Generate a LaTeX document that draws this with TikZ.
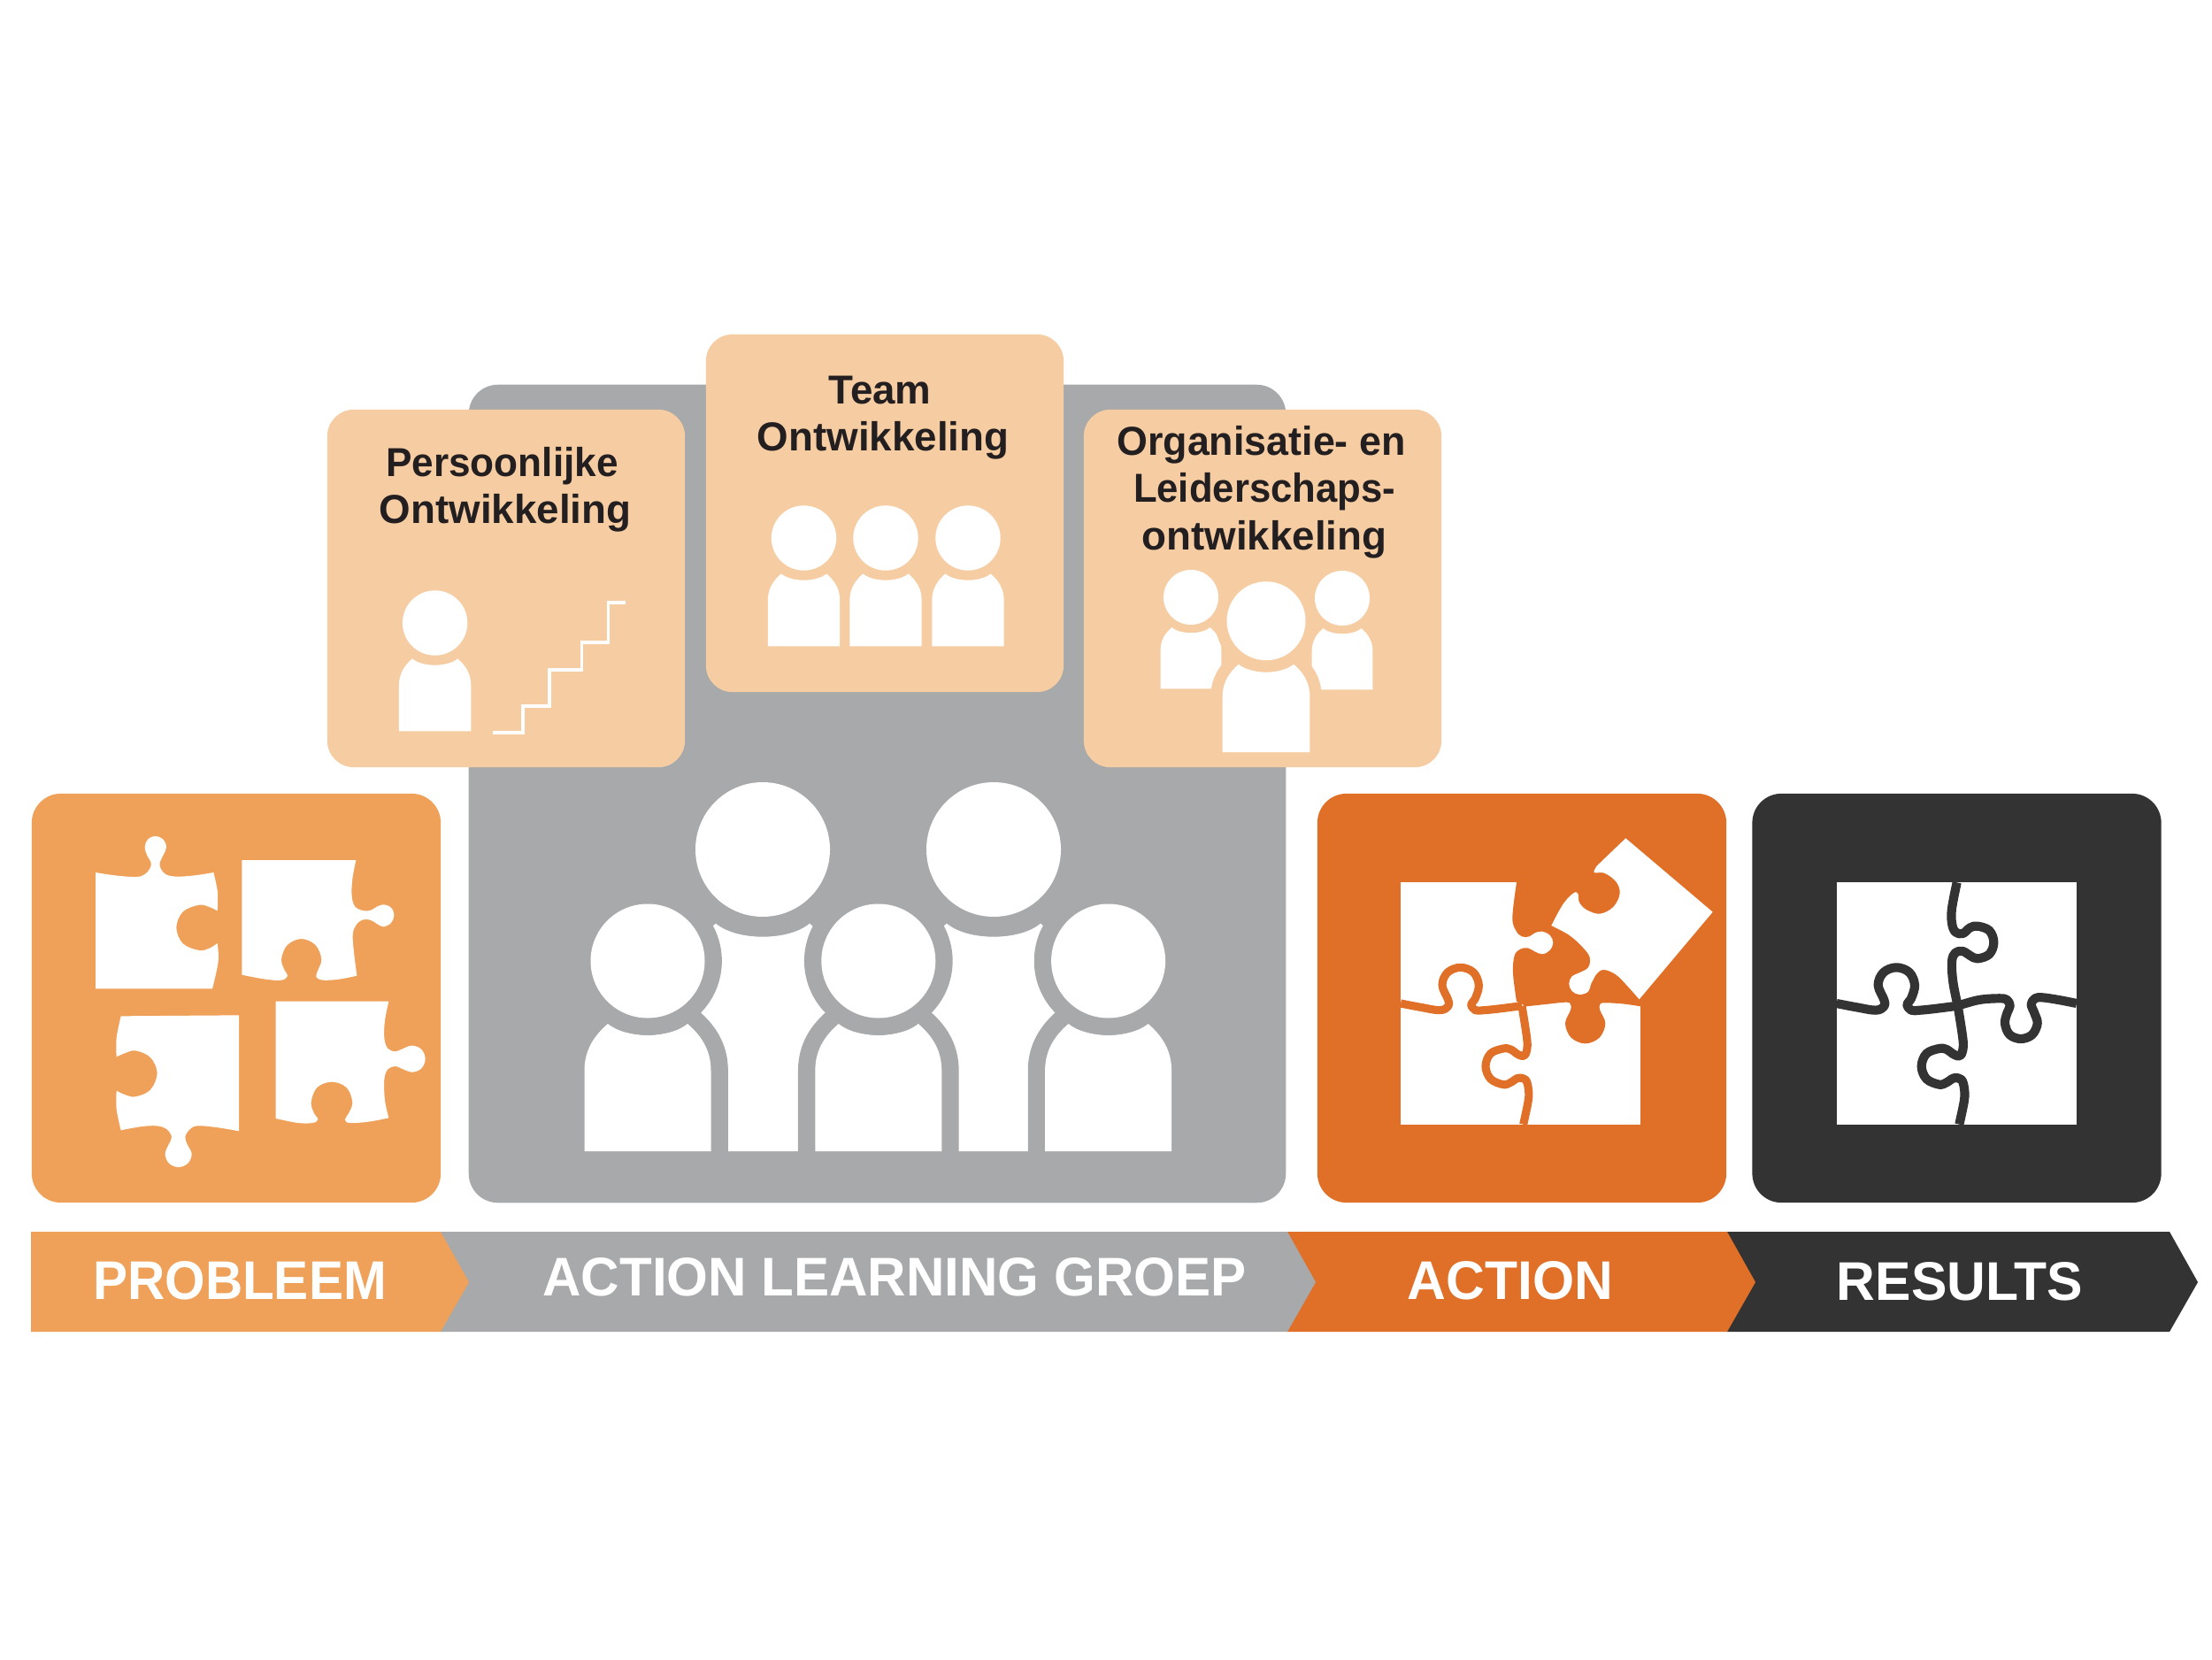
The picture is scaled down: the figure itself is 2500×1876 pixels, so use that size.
\documentclass[tikz,border=0pt]{standalone}
\usepackage{fontspec}
\setmainfont{Liberation Sans}
\newfontfamily\stripfont{Liberation Sans}[FakeStretch=0.985]
\usepackage{xcolor}
\definecolor{problemorange}{HTML}{EFA159}
\definecolor{groupgray}{HTML}{A7A9AA}
\definecolor{actionorange}{HTML}{E07028}
\definecolor{resultdark}{HTML}{333333}
\definecolor{cardpeach}{HTML}{F6CDA3}
\definecolor{textdark}{HTML}{231F20}

% head and shoulders: centre x, centre y, head radius, body bottom, halo style
\newcommand{\drawperson}[5]{%
  \begin{scope}[shift={(#1,#2)},scale=#3/64.5]
    \path[fill=white,#5] (-71.5,#4) -- (-71.5,124) .. controls (-71.5,100) and (-60,84) .. (-45,71)
      .. controls (-25,88) and (25,88) .. (45,71) .. controls (60,84) and (71.5,100) .. (71.5,124)
      -- (71.5,#4) -- cycle;
    \path[fill=white,#5] (0,0) circle[radius=64.5];
  \end{scope}}

% puzzle seams, in the frame of the finished puzzle
\newcommand{\seamwest}{plot[smooth,tension=.6] coordinates {(317,762) (385,775) (450,785) (478,772) (478,750) (458,700) (476,657) (520,640) (564,657) (582,700) (570,745) (556,765) (570,785) (600,785) (650,780) (728,770)}}
\newcommand{\seamsouth}{plot[smooth,tension=.6] coordinates {(728,770) (745,880) (745,920) (735,940) (715,935) (690,918) (665,915) (622,932) (605,975) (622,1018) (665,1037) (690,1030) (715,1015) (740,1020) (750,1050) (750,1090) (733,1172)}}
\newcommand{\seamnorth}{plot[smooth,tension=.6] coordinates {(725,352) (708,440) (708,490) (720,520) (745,525) (770,505) (795,500) (835,515) (850,555) (835,595) (795,610) (770,600) (745,585) (720,590) (708,620) (712,690) (728,770)}}
\newcommand{\seameast}{plot[smooth,tension=.6] coordinates {(728,770) (800,750) (870,745) (895,750) (905,770) (895,795) (888,830) (904,868) (942,882) (980,868) (998,830) (988,795) (977,765) (990,745) (1015,742) (1070,750) (1131,762)}}

\begin{document}
\begin{tikzpicture}[
    x=0.01cm, y=-0.01cm,
    panel/.style={rounded corners=0.33cm, minimum width=4.62cm, minimum height=4.62cm,
                  inner sep=0pt, fill=#1},
    card/.style={rounded corners=0.3cm, minimum width=4.04cm, minimum height=4.04cm,
                 inner sep=0pt, fill=cardpeach},
    cardtext/.style={font=\fontsize{13}{15.2}\selectfont\bfseries, align=center,
                     text=textdark, inner sep=0pt},
    striptext/.style={font=\fontsize{17.5}{20}\selectfont\stripfont\bfseries, text=white, inner sep=0pt},
    seam/.style={line width=#1, line join=round},
    piece/.style={smooth, tension=.6},
    halogray/.style={preaction={draw=groupgray,line width=11pt}},
    halopeach/.style={preaction={draw=cardpeach,line width=7.6pt}}
  ]
    \useasboundingbox (0,0) rectangle (2500,1876);

    % Panels
    \node[panel=problemorange] (problem) at (267,1128) {};
    \node[panel=groupgray, minimum width=9.23cm, minimum height=9.24cm] (group) at (991.5,897) {};
    \node[panel=actionorange] (action) at (1720,1128) {};
    \node[panel=resultdark] (results) at (2211.5,1128) {};

    % Cards on the group panel
    \node[card] (personal) at (572,665) {};
    \node[card] (team) at (1000,580) {};
    \node[card] (organisation) at (1427,665) {};
    \node[cardtext] (personaltext) at (571,553.5) {\scalebox{.965}[1]{Persoonlijke}\hspace*{2pt}\\Ontwikkeling};
    \node[cardtext] (teamtext) at (998,472) {Team\hspace*{2pt}\\Ontwikkeling};
    \node[cardtext] (organisationtext) at (1429,556) {\scalebox{.98}[1]{Organisatie- en}\hspace*{2pt}\\\scalebox{.955}[1]{Leiderschaps-}\\ontwikkeling};

    % Card icons
    \drawperson{491.6}{704}{36.7}{215}{}
    \draw[white, line width=1.1pt] (557,828) -- (590.6,828) -- (590.6,798) -- (621,798) -- (621,757)
      -- (657.5,757) -- (657.5,726) -- (687.5,726) -- (687.5,681) -- (707,681);
    \drawperson{908.5}{608}{36.7}{215}{}
    \drawperson{1001}{608}{36.7}{215}{}
    \drawperson{1094}{608}{36.7}{215}{}
    \drawperson{1346}{675}{31}{215}{}
    \drawperson{1517}{676}{31}{215}{}
    \drawperson{1431}{701.7}{44.5}{215}{halopeach}

    % Group of five
    \drawperson{862}{960}{76}{289.4}{}
    \drawperson{1123}{960}{76}{289.4}{}
    \drawperson{732}{1086}{64.5}{215}{halogray}
    \drawperson{992.8}{1086}{64.5}{215}{halogray}
    \drawperson{1252.6}{1086}{64.5}{215}{halogray}

    % Loose puzzle pieces
    \begin{scope}[shift={(20,880)}, scale=1/3]
      \fill[white] plot[piece] coordinates {(264,318) (330,328) (400,333) (430,325) (448,305) (452,285) (438,258) (431,232) (441,206) (467,195) (493,206) (504,232) (494,258) (482,285) (485,305) (503,325) (540,332) (600,328) (664,318)}
        -- plot[piece] coordinates {(664,318) (678,385) (677,448)}
        -- plot[piece] coordinates {(677,448) (650,435) (615,428) (560,451) (538,505) (560,559) (615,582) (650,575) (677,558)}
        -- plot[piece] coordinates {(677,558) (680,620) (660,712)} -- (264,712) -- cycle;
      \fill[white] (760,276) -- (1147,276) -- plot[piece] coordinates {(1147,276) (1135,340) (1133,400) (1145,435) (1175,448) (1200,445) (1218,434) (1240,427) (1266,437) (1276,463) (1266,489) (1240,502) (1218,492) (1200,481) (1175,477) (1148,495) (1136,540) (1150,668)}
        -- plot[piece] coordinates {(1150,668) (1090,680) (1035,683) (1012,672) (1018,650) (1030,612) (1010,564) (962,543) (914,564) (894,612) (905,650) (915,668) (895,683) (840,680) (760,665)} -- cycle;
      \fill[white] (350,805) -- (750,802) -- (750,1195) -- plot[piece] coordinates {(750,1195) (680,1183) (610,1177) (582,1190) (568,1215) (575,1240) (590,1272) (577,1304) (545,1317) (513,1304) (500,1272) (512,1240) (522,1215) (505,1188) (470,1177) (415,1180) (350,1192)}
        -- plot[piece] coordinates {(350,1192) (335,1120) (335,1058)}
        -- plot[piece] coordinates {(335,1058) (365,1072) (400,1078) (450,1055) (473,998) (450,945) (400,922) (365,930) (335,943)}
        -- plot[piece] coordinates {(335,943) (335,880) (350,805)} -- cycle;
      \fill[white] (875,755) -- (1258,755) -- plot[piece] coordinates {(1258,755) (1245,820) (1243,880) (1255,915) (1280,925) (1300,918) (1337,905) (1369,918) (1382,950) (1369,982) (1337,995) (1300,982) (1280,975) (1255,985) (1243,1020) (1245,1090) (1258,1150)}
        -- plot[piece] coordinates {(1258,1150) (1190,1163) (1125,1167) (1110,1155) (1122,1135) (1135,1097) (1115,1047) (1065,1028) (1015,1047) (995,1097) (1005,1135) (1018,1155) (1000,1167) (950,1167) (875,1152)} -- cycle;
    \end{scope}

    % Puzzle with the last piece going in
    \begin{scope}[shift={(1480,880)}, scale=1/3]
      \fill[white] (309,352) rectangle (1123,1172);
      \fill[actionorange] (702,345) -- plot[piece] coordinates {(702,352) (688,470) (700,515) (720,535) (745,535) (765,522) (790,518) (815,530) (826,555) (815,582) (790,595) (765,587) (740,574) (715,578) (695,600) (690,660) (702,755)}
        -- plot[piece] coordinates {(735,772) (800,765) (870,758) (885,765) (885,785) (867,830) (887,878) (935,898) (983,878) (1003,830) (985,785) (985,765) (1000,760) (1060,763) (1123,772)}
        -- (1130,772) -- (1130,345) -- cycle;
      \begin{scope}[shift={(-8,0)}]
        \draw[actionorange, seam=2.6pt] \seamwest;
        \draw[actionorange, seam=2.6pt] \seamsouth;
      \end{scope}
      \fill[white] (1072,202) -- (1367,452) -- (1118,748)
        -- plot[piece] coordinates {(1118,748) (1080,705) (1040,665) (1000,648) (975,660) (955,695) (945,722) (915,732) (890,720) (880,695) (890,670) (915,658) (945,640) (950,605) (925,570) (880,530) (820,498)}
        -- plot[piece] coordinates {(820,498) (860,425) (895,388) (910,390) (915,420) (940,445) (985,458) (1030,435) (1052,390) (1040,350) (1000,320) (965,318) (975,295)} -- cycle;
    \end{scope}

    % Finished puzzle
    \begin{scope}[shift={(1970,880)}, scale=1/3]
      \fill[white] (317,352) rectangle (1131,1172);
      \draw[resultdark, seam=2.9pt] \seamwest;
      \draw[resultdark, seam=2.9pt] \seamsouth;
      \draw[resultdark, seam=2.9pt] \seamnorth;
      \draw[resultdark, seam=2.9pt] \seameast;
    \end{scope}

    % Bottom strip, each tip lying over the next part
    \fill[resultdark] (1952,1392) -- (2452,1392) -- (2484,1449) -- (2452,1505) -- (1952,1505) -- cycle;
    \fill[actionorange] (1455,1392) -- (1952,1392) -- (1984,1449) -- (1952,1505) -- (1455,1505) -- cycle;
    \fill[groupgray] (498,1392) -- (1455,1392) -- (1487,1449) -- (1455,1505) -- (498,1505) -- cycle;
    \fill[problemorange] (35,1392) -- (498,1392) -- (530,1449) -- (498,1505) -- (35,1505) -- cycle;
    \node[striptext] (problemlabel) at (271,1447) {\scalebox{.965}[1]{PROBLEEM}};
    \node[striptext] (grouplabel) at (1011,1443) {\scalebox{.992}[1]{ACTION LEARNING GROEP}};
    \node[striptext] (actionlabel) at (1707,1447) {ACTION};
    \node[striptext] (resultslabel) at (2215,1448) {RESULTS};
\end{tikzpicture}
\end{document}
